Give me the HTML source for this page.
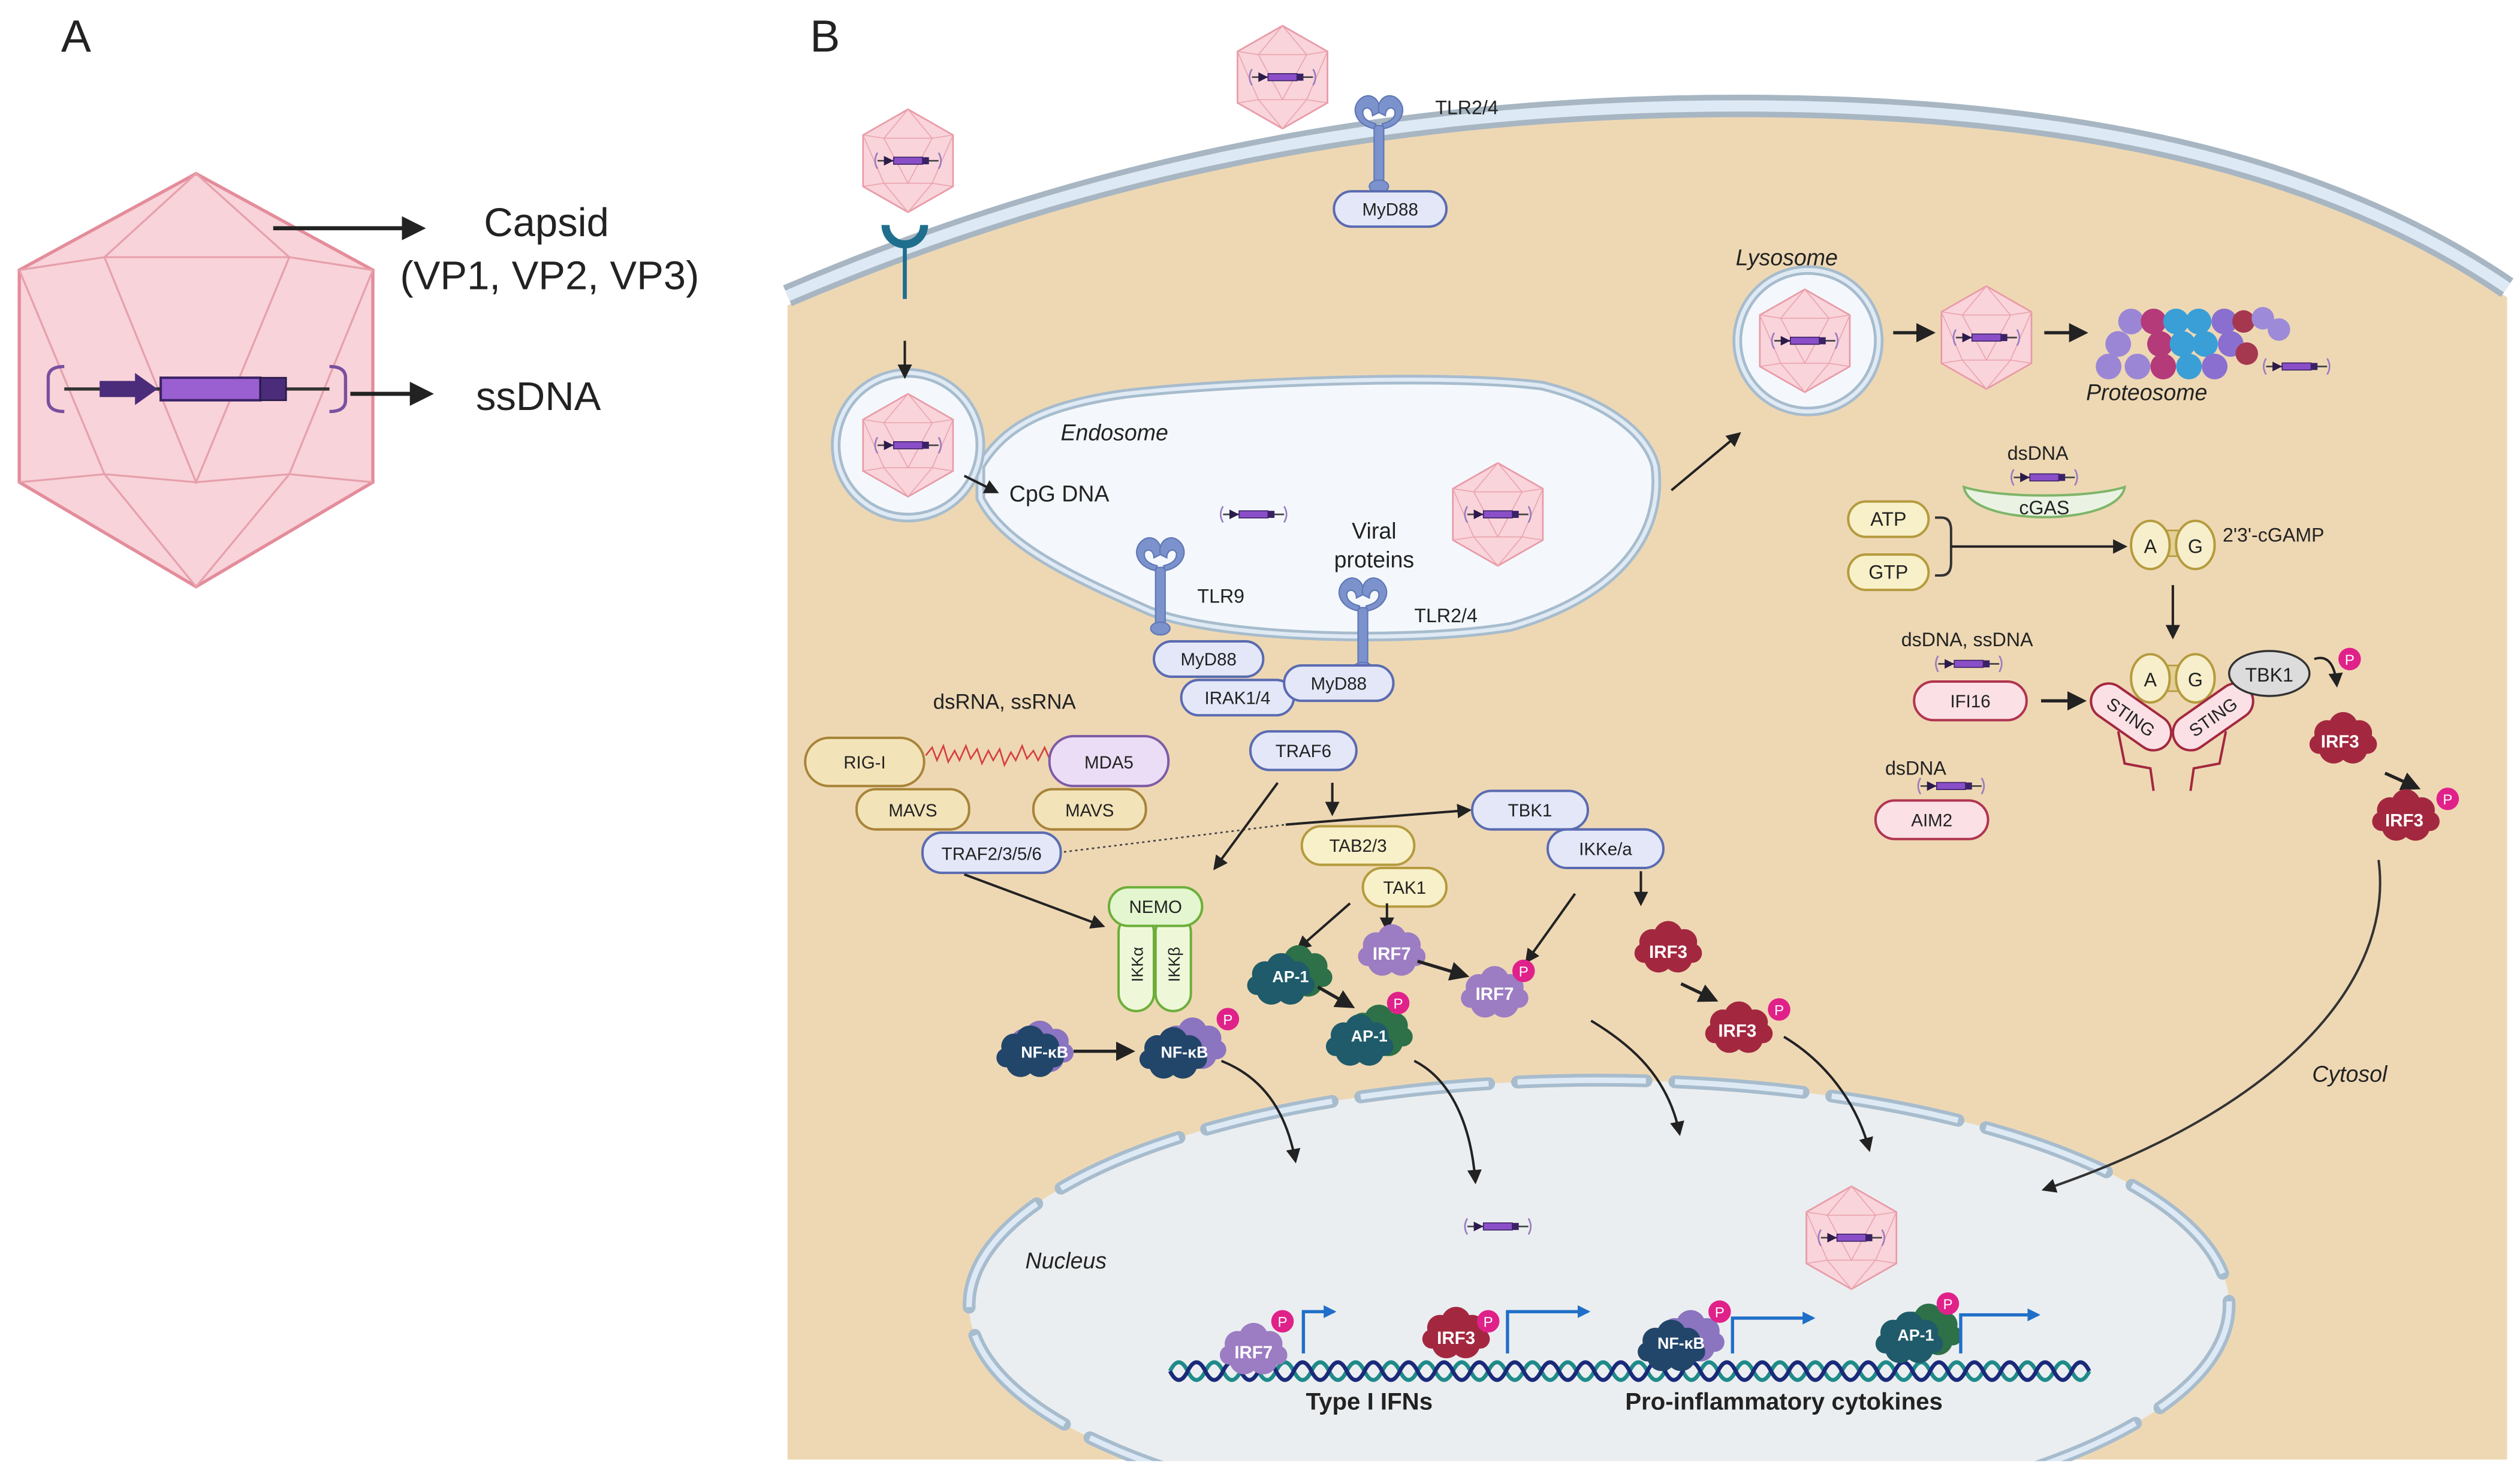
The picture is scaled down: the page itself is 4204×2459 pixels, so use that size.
<!DOCTYPE html>
<html><head><meta charset="utf-8">
<style>
html,body{margin:0;padding:0;background:#fff;}
svg{display:block;}
text{font-family:"Liberation Sans",Arial,sans-serif;fill:#222;}
</style></head>
<body>
<svg width="4204" height="2459" viewBox="0 0 1568 917" preserveAspectRatio="none" xmlns="http://www.w3.org/2000/svg">
<defs>
<marker id="ah" viewBox="0 0 10 10" refX="8" refY="5" markerWidth="6" markerHeight="6" orient="auto-start-reverse"><path d="M0,0 L10,5 L0,10 z" fill="#222"/></marker>
<marker id="bh" viewBox="0 0 10 10" refX="8" refY="5" markerWidth="4" markerHeight="4" orient="auto"><path d="M0,0 L10,5 L0,10 z" fill="#1f6fc8"/></marker>
<symbol id="dna" overflow="visible">
 <line x1="-19" y1="0" x2="19" y2="0" stroke="#444" stroke-width="1"/>
 <rect x="-9" y="-2.2" width="18" height="4.4" fill="#8a4fc8" stroke="#3b2266" stroke-width="0.6"/>
 <path d="M-15,-3 L-9,0 L-15,3 z" fill="#2b1b4a"/>
 <rect x="9" y="-2.2" width="4" height="4.4" fill="#3b2266"/>
 <path d="M-19,-5 q-3,5 0,10 M19,-5 q3,5 0,10" fill="none" stroke="#9a7cc0" stroke-width="1"/>
</symbol>
<symbol id="cap" overflow="visible">
 <polygon points="0,-32 28,-16 28,16 0,32 -28,16 -28,-16" fill="#f9d4da" stroke="#e89aa6" stroke-width="1"/>
 <path d="M0,-32 L-15,-14 L15,-14 Z M-28,-16 L-15,-14 M28,-16 L15,-14 M-15,-14 L0,14 L15,-14 M-28,16 L-15,14 L0,14 L15,14 L28,16 M-15,14 L0,32 L15,14 M-28,-16 L-15,14 M28,-16 L15,14" fill="none" stroke="#eaa3ae" stroke-width="0.6"/>
 <use href="#dna" x="0" y="0"/>
</symbol>
<symbol id="blob" overflow="visible">
 <g fill="currentColor">
 <circle cx="-10" cy="-4" r="8"/><circle cx="0" cy="-8" r="9"/><circle cx="10" cy="-4" r="8"/>
 <circle cx="-6" cy="6" r="9"/><circle cx="6" cy="6" r="9"/><circle cx="15" cy="3" r="6"/><circle cx="-15" cy="3" r="6"/>
 </g>
</symbol>
<symbol id="pp" overflow="visible">
 <circle r="7" fill="#e0218a"/><text x="0" y="3.5" font-size="9" text-anchor="middle" style="fill:#fff">P</text>
</symbol>
<symbol id="tlr" overflow="visible">
 <g fill="#7b92cc" stroke="#5f77b5" stroke-width="0.8">
 <path d="M-3,0 C-14,-2 -18,-12 -12,-18 C-6,-24 2,-18 0,-10 L-4,-8 C-4,-14 -10,-14 -10,-10 C-10,-6 -6,-4 -2,-3 Z"/>
 <path d="M3,0 C14,-2 18,-12 12,-18 C6,-24 -2,-18 0,-10 L4,-8 C4,-14 10,-14 10,-10 C10,-6 6,-4 2,-3 Z"/>
 <rect x="-3" y="-2" width="6" height="36" rx="2"/>
 <ellipse cx="0" cy="36" rx="6" ry="4"/>
 </g>
</symbol>
</defs>

<!-- Panel A -->
<text x="38" y="32" font-size="28">A</text>
<polygon points="122,108 232,168 232,300 122,365 12,300 12,168" fill="#f8d3d9" stroke="#e48c9b" stroke-width="2"/>
<path d="M122,108 L65,160 L180,160 Z M12,168 L65,160 M232,168 L180,160 M65,160 L122,300 L180,160 M12,300 L65,295 L122,300 L180,295 L232,300 M65,295 L122,365 L180,295 M12,168 L65,295 M232,168 L180,295" fill="none" stroke="#e6a0ab" stroke-width="1.2"/>
<line x1="40" y1="242" x2="205" y2="242" stroke="#333" stroke-width="2"/>
<rect x="100" y="235" width="62" height="14" fill="#9a5fd0" stroke="#3b2266" stroke-width="1.5"/>
<rect x="162" y="235" width="16" height="14" fill="#4a2c7a" stroke="#2b1b4a"/>
<path d="M62,237 L84,237 L84,232 L98,242 L84,252 L84,247 L62,247 Z" fill="#4a2c7a"/>
<path d="M40,228 q-10,0 -10,7 v14 q0,7 10,7" fill="none" stroke="#7a4fa0" stroke-width="2"/>
<path d="M205,228 q10,0 10,7 v14 q0,7 -10,7" fill="none" stroke="#7a4fa0" stroke-width="2"/>
<line x1="170" y1="142" x2="262" y2="142" stroke="#222" stroke-width="2.5" marker-end="url(#ah)"/>
<line x1="218" y1="245" x2="267" y2="245" stroke="#222" stroke-width="2.5" marker-end="url(#ah)"/>
<text x="340" y="147" font-size="25" text-anchor="middle">Capsid</text>
<text x="342" y="180" font-size="25" text-anchor="middle">(VP1, VP2, VP3)</text>
<text x="335" y="255" font-size="25" text-anchor="middle">ssDNA</text>

<!-- Panel B -->
<text x="504" y="32" font-size="28">B</text>
<path d="M490,190 C700,100 900,70 1100,72 C1300,74 1450,110 1560,185 L1560,908 L490,908 Z" fill="#eed8b4"/>
<path d="M490,184 C700,94 900,64 1100,66 C1300,68 1450,104 1560,179" fill="none" stroke="#a7b6c2" stroke-width="14"/>
<path d="M490,184 C700,94 900,64 1100,66 C1300,68 1450,104 1560,179" fill="none" stroke="#dde9f4" stroke-width="7"/>

<!-- receptor Y -->
<path d="M551,140 a12,12 0 0 0 24,0" fill="none" stroke="#1f6e8e" stroke-width="5"/>
<line x1="563" y1="152" x2="563" y2="186" stroke="#1f6e8e" stroke-width="2.5"/>
<use href="#cap" x="565" y="100"/>
<use href="#cap" x="798" y="48"/>
<use href="#tlr" x="858" y="80"/>
<text x="893" y="71" font-size="12">TLR2/4</text>

<!-- endosome -->
<path d="M610,290 C625,265 650,252 700,245 C760,238 900,232 960,240 C1000,250 1025,270 1030,290 C1035,330 1010,370 940,390 C880,400 760,398 715,380 C670,360 625,340 610,310 Z" fill="#f4f8fc" stroke="#a7bccd" stroke-width="6"/>
<path d="M610,290 C625,265 650,252 700,245 C760,238 900,232 960,240 C1000,250 1025,270 1030,290 C1035,330 1010,370 940,390 C880,400 760,398 715,380 C670,360 625,340 610,310 Z" fill="none" stroke="#dfeaf4" stroke-width="2.5"/>
<circle cx="565" cy="277" r="45" fill="#f4f8fc" stroke="#a7bccd" stroke-width="6"/>
<circle cx="565" cy="277" r="45" fill="none" stroke="#dfeaf4" stroke-width="2.5"/>
<use href="#cap" x="565" y="277"/>
<line x1="563" y1="212" x2="563" y2="234" stroke="#222" stroke-width="1.5" marker-end="url(#ah)"/>
<line x1="600" y1="296" x2="620" y2="306" stroke="#222" stroke-width="1.5" marker-end="url(#ah)"/>
<text x="660" y="274" font-size="14" font-style="italic">Endosome</text>
<text x="628" y="312" font-size="14">CpG DNA</text>
<use href="#dna" x="780" y="320"/>
<use href="#cap" x="932" y="320"/>
<text x="855" y="335" font-size="14" text-anchor="middle">Viral</text>
<text x="855" y="353" font-size="14" text-anchor="middle">proteins</text>
<use href="#tlr" x="722" y="355"/>
<text x="745" y="375" font-size="12">TLR9</text>
<use href="#tlr" x="848" y="380"/>
<text x="880" y="387" font-size="12">TLR2/4</text>

<!-- lysosome -->
<line x1="1040" y1="305" x2="1082" y2="270" stroke="#222" stroke-width="1.5" marker-end="url(#ah)"/>
<circle cx="1125" cy="212" r="44" fill="#f4f8fc" stroke="#a7bccd" stroke-width="6"/>
<circle cx="1125" cy="212" r="44" fill="none" stroke="#dfeaf4" stroke-width="2.5"/>
<use href="#cap" x="1123" y="212"/>
<text x="1080" y="165" font-size="14" font-style="italic">Lysosome</text>
<line x1="1178" y1="207" x2="1202" y2="207" stroke="#222" stroke-width="2" marker-end="url(#ah)"/>
<use href="#cap" x="1236" y="210"/>
<line x1="1272" y1="207" x2="1297" y2="207" stroke="#222" stroke-width="2" marker-end="url(#ah)"/>
<!-- proteasome -->
<g>
 <g fill="#9b86d6"><circle cx="1312" cy="228" r="8"/><circle cx="1318" cy="214" r="8"/><circle cx="1326" cy="200" r="8"/><circle cx="1330" cy="228" r="8"/></g>
 <g fill="#b53a7a"><circle cx="1340" cy="200" r="8"/><circle cx="1344" cy="214" r="8"/><circle cx="1346" cy="228" r="8"/></g>
 <g fill="#3a9fd6"><circle cx="1354" cy="200" r="8"/><circle cx="1358" cy="214" r="8"/><circle cx="1362" cy="228" r="8"/><circle cx="1368" cy="200" r="8"/><circle cx="1372" cy="214" r="8"/></g>
 <g fill="#8a6fd0"><circle cx="1378" cy="228" r="8"/><circle cx="1384" cy="200" r="8"/><circle cx="1388" cy="214" r="8"/></g>
 <g fill="#a5374f"><circle cx="1396" cy="200" r="7"/><circle cx="1398" cy="220" r="7"/></g>
 <g fill="#9d8ad8"><circle cx="1408" cy="198" r="7"/><circle cx="1418" cy="205" r="7"/></g>
</g>
<text x="1298" y="249" font-size="14" font-style="italic">Proteosome</text>
<use href="#dna" x="1429" y="228"/>

<!-- cGAS STING -->
<text x="1268" y="286" font-size="12" text-anchor="middle">dsDNA</text>
<use href="#dna" x="1272" y="297"/>
<path d="M1222,303 C1226,328 1318,328 1322,303 C1300,310 1244,310 1222,303 Z" fill="#eaf3e3" stroke="#7fb56a" stroke-width="1.5"/>
<text x="1272" y="320" font-size="12" text-anchor="middle">cGAS</text>
<rect x="1150" y="312" width="50" height="22" rx="11" fill="#f8f0c8" stroke="#b59b3e" stroke-width="1.5"/>
<text x="1175" y="327" font-size="12" text-anchor="middle">ATP</text>
<rect x="1150" y="345" width="50" height="22" rx="11" fill="#f8f0c8" stroke="#b59b3e" stroke-width="1.5"/>
<text x="1175" y="360" font-size="12" text-anchor="middle">GTP</text>
<path d="M1204,322 h4 q6,0 6,8 v20 q0,8 -6,8 h-4" fill="none" stroke="#333" stroke-width="1.5"/>
<line x1="1214" y1="340" x2="1322" y2="340" stroke="#222" stroke-width="1.5" marker-end="url(#ah)"/>
<rect x="1336" y="330" width="32" height="16" fill="#e4cf95" stroke="#b59b3e"/>
<ellipse cx="1338" cy="339" rx="12" ry="15" fill="#f7efcb" stroke="#b59b3e" stroke-width="1.5"/>
<ellipse cx="1366" cy="339" rx="12" ry="15" fill="#f7efcb" stroke="#b59b3e" stroke-width="1.5"/>
<text x="1338" y="344" font-size="12" text-anchor="middle">A</text>
<text x="1366" y="344" font-size="12" text-anchor="middle">G</text>
<text x="1383" y="337" font-size="12">2'3'-cGAMP</text>
<line x1="1352" y1="364" x2="1352" y2="396" stroke="#222" stroke-width="1.5" marker-end="url(#ah)"/>

<text x="1224" y="402" font-size="12" text-anchor="middle">dsDNA, ssDNA</text>
<use href="#dna" x="1225" y="413"/>
<rect x="1191" y="424" width="70" height="24" rx="12" fill="#fbe0e6" stroke="#b03550" stroke-width="1.5"/>
<text x="1226" y="440" font-size="11" text-anchor="middle">IFI16</text>
<line x1="1270" y1="436" x2="1296" y2="436" stroke="#222" stroke-width="2" marker-end="url(#ah)"/>
<text x="1192" y="482" font-size="12" text-anchor="middle">dsDNA</text>
<use href="#dna" x="1214" y="489"/>
<rect x="1167" y="498" width="70" height="24" rx="12" fill="#fbe0e6" stroke="#b03550" stroke-width="1.5"/>
<text x="1202" y="514" font-size="11" text-anchor="middle">AIM2</text>

<path d="M1318,455 L1322,475 L1338,478 L1340,492 M1385,455 L1381,475 L1365,478 L1363,492" fill="none" stroke="#a3283f" stroke-width="1.5"/>
<rect x="1336" y="414" width="32" height="16" fill="#e4cf95" stroke="#b59b3e"/>
<ellipse cx="1338" cy="422" rx="12" ry="15" fill="#f7efcb" stroke="#b59b3e" stroke-width="1.5"/>
<ellipse cx="1366" cy="422" rx="12" ry="15" fill="#f7efcb" stroke="#b59b3e" stroke-width="1.5"/>
<text x="1338" y="427" font-size="12" text-anchor="middle">A</text>
<text x="1366" y="427" font-size="12" text-anchor="middle">G</text>
<g transform="translate(1326,446) rotate(35)"><rect x="-28" y="-11" width="56" height="22" rx="11" fill="#fbe0e6" stroke="#a3283f" stroke-width="1.5"/><text x="0" y="4" font-size="11" text-anchor="middle">STING</text></g>
<g transform="translate(1377,446) rotate(-35)"><rect x="-28" y="-11" width="56" height="22" rx="11" fill="#fbe0e6" stroke="#a3283f" stroke-width="1.5"/><text x="0" y="4" font-size="11" text-anchor="middle">STING</text></g>
<ellipse cx="1412" cy="419" rx="25" ry="14" fill="#dcdcdc" stroke="#333" stroke-width="1.3"/>
<text x="1412" y="424" font-size="12" text-anchor="middle">TBK1</text>
<path d="M1440,410 q12,-4 14,16" fill="none" stroke="#222" stroke-width="1.5" marker-end="url(#ah)"/>
<use href="#pp" x="1462" y="410"/>
<use href="#blob" x="1458" y="460" style="color:#a3283f"/>
<text x="1456" y="465" font-size="11" font-weight="bold" text-anchor="middle" style="fill:#fff">IRF3</text>
<line x1="1484" y1="481" x2="1504" y2="490" stroke="#222" stroke-width="2" marker-end="url(#ah)"/>
<use href="#blob" x="1497" y="508" style="color:#a3283f"/>
<text x="1496" y="514" font-size="11" font-weight="bold" text-anchor="middle" style="fill:#fff">IRF3</text>
<use href="#pp" x="1523" y="497"/>
<text x="1462" y="673" font-size="14" font-style="italic" text-anchor="middle">Cytosol</text>

<!-- MyD88 etc -->
<rect x="830" y="119" width="70" height="22" rx="11" fill="#e3e7f8" stroke="#5a6bb0" stroke-width="1.5"/>
<text x="865" y="134" font-size="11" text-anchor="middle">MyD88</text>
<rect x="735" y="423" width="70" height="22" rx="11" fill="#e3e7f8" stroke="#5a6bb0" stroke-width="1.5"/>
<text x="770" y="438" font-size="11" text-anchor="middle">IRAK1/4</text>
<rect x="718" y="399" width="68" height="22" rx="11" fill="#e3e7f8" stroke="#5a6bb0" stroke-width="1.5"/>
<text x="752" y="414" font-size="11" text-anchor="middle">MyD88</text>
<rect x="799" y="414" width="68" height="22" rx="11" fill="#e3e7f8" stroke="#5a6bb0" stroke-width="1.5"/>
<text x="833" y="429" font-size="11" text-anchor="middle">MyD88</text>
<rect x="778" y="455" width="66" height="24" rx="12" fill="#e3e7f8" stroke="#5a6bb0" stroke-width="1.5"/>
<text x="811" y="471" font-size="11" text-anchor="middle">TRAF6</text>

<text x="625" y="441" font-size="13" text-anchor="middle">dsRNA, ssRNA</text>
<path d="M576,470 l4,-5 3,8 4,-9 3,10 4,-7 3,6 4,-9 3,8 4,-6 3,9 4,-8 3,6 4,-7 3,10 4,-8 3,5 4,-9 3,8 4,-5 3,6 4,-8 3,7 4,-6" fill="none" stroke="#d64040" stroke-width="1"/>
<rect x="501" y="459" width="74" height="30" rx="15" fill="#f3e3b8" stroke="#a8843a" stroke-width="1.5"/>
<text x="538" y="478" font-size="11" text-anchor="middle">RIG-I</text>
<rect x="653" y="458" width="74" height="31" rx="15" fill="#ebddf5" stroke="#7d5ba6" stroke-width="1.5"/>
<text x="690" y="478" font-size="11" text-anchor="middle">MDA5</text>
<rect x="533" y="491" width="70" height="25" rx="12" fill="#f3e3b8" stroke="#a8843a" stroke-width="1.5"/>
<text x="568" y="508" font-size="11" text-anchor="middle">MAVS</text>
<rect x="643" y="491" width="70" height="25" rx="12" fill="#f3e3b8" stroke="#a8843a" stroke-width="1.5"/>
<text x="678" y="508" font-size="11" text-anchor="middle">MAVS</text>
<rect x="574" y="518" width="86" height="25" rx="12" fill="#e3e7f8" stroke="#5a6bb0" stroke-width="1.5"/>
<text x="617" y="535" font-size="11" text-anchor="middle">TRAF2/3/5/6</text>
<line x1="662" y1="530" x2="800" y2="513" stroke="#444" stroke-width="1" stroke-dasharray="1.5,2"/>
<line x1="800" y1="513" x2="914" y2="504" stroke="#222" stroke-width="1.5" marker-end="url(#ah)"/>

<rect x="916" y="492" width="72" height="24" rx="12" fill="#e3e7f8" stroke="#5a6bb0" stroke-width="1.5"/>
<text x="952" y="508" font-size="11" text-anchor="middle">TBK1</text>
<rect x="963" y="516" width="72" height="24" rx="12" fill="#e3e7f8" stroke="#5a6bb0" stroke-width="1.5"/>
<text x="999" y="532" font-size="11" text-anchor="middle">IKKe/a</text>
<rect x="810" y="514" width="70" height="24" rx="12" fill="#f8f0c8" stroke="#b59b3e" stroke-width="1.5"/>
<text x="845" y="530" font-size="11" text-anchor="middle">TAB2/3</text>
<rect x="848" y="540" width="52" height="24" rx="12" fill="#f8f0c8" stroke="#b59b3e" stroke-width="1.5"/>
<text x="874" y="556" font-size="11" text-anchor="middle">TAK1</text>

<line x1="829" y1="487" x2="829" y2="506" stroke="#222" stroke-width="1.5" marker-end="url(#ah)"/>
<line x1="795" y1="487" x2="756" y2="540" stroke="#222" stroke-width="1.5" marker-end="url(#ah)"/>
<line x1="600" y1="544" x2="686" y2="576" stroke="#222" stroke-width="1.5" marker-end="url(#ah)"/>
<line x1="1021" y1="542" x2="1021" y2="562" stroke="#222" stroke-width="1.5" marker-end="url(#ah)"/>
<line x1="980" y1="556" x2="950" y2="598" stroke="#222" stroke-width="1.5" marker-end="url(#ah)"/>
<line x1="840" y1="562" x2="808" y2="590" stroke="#222" stroke-width="1.5" marker-end="url(#ah)"/>
<line x1="863" y1="562" x2="863" y2="578" stroke="#222" stroke-width="1.5" marker-end="url(#ah)"/>

<!-- NEMO IKK -->
<rect x="696" y="569" width="22" height="60" rx="11" fill="#eef8d9" stroke="#6dae3a" stroke-width="1.5"/>
<rect x="719" y="569" width="22" height="60" rx="11" fill="#eef8d9" stroke="#6dae3a" stroke-width="1.5"/>
<text transform="translate(711,600) rotate(-90)" font-size="10" text-anchor="middle">IKKα</text>
<text transform="translate(734,600) rotate(-90)" font-size="10" text-anchor="middle">IKKβ</text>
<rect x="690" y="552" width="58" height="24" rx="12" fill="#e3f6cf" stroke="#6dae3a" stroke-width="1.5"/>
<text x="719" y="568" font-size="11" text-anchor="middle">NEMO</text>

<!-- proteins -->
<use href="#blob" x="647" y="652" style="color:#8b74c0"/>
<use href="#blob" x="641" y="655" style="color:#22456a"/>
<text x="650" y="658" font-size="10" font-weight="bold" text-anchor="middle" style="fill:#fff">NF-κB</text>
<line x1="668" y1="654" x2="704" y2="654" stroke="#222" stroke-width="2" marker-end="url(#ah)"/>
<use href="#blob" x="742" y="650" style="color:#8b74c0"/>
<use href="#blob" x="730" y="656" style="color:#22456a"/>
<text x="737" y="658" font-size="10" font-weight="bold" text-anchor="middle" style="fill:#fff">NF-κB</text>
<use href="#pp" x="764" y="634"/>

<use href="#blob" x="808" y="605" style="color:#2e7048"/>
<use href="#blob" x="797" y="610" style="color:#1f5b6a"/>
<text x="803" y="611" font-size="10" font-weight="bold" text-anchor="middle" style="fill:#fff">AP-1</text>
<line x1="820" y1="614" x2="841" y2="626" stroke="#222" stroke-width="2" marker-end="url(#ah)"/>
<use href="#blob" x="858" y="642" style="color:#2e7048"/>
<use href="#blob" x="846" y="648" style="color:#1f5b6a"/>
<text x="852" y="648" font-size="10" font-weight="bold" text-anchor="middle" style="fill:#fff">AP-1</text>
<use href="#pp" x="870" y="624"/>

<use href="#blob" x="866" y="592" style="color:#9c7cc2"/>
<text x="866" y="597" font-size="11" font-weight="bold" text-anchor="middle" style="fill:#fff">IRF7</text>
<line x1="882" y1="598" x2="912" y2="607" stroke="#222" stroke-width="2" marker-end="url(#ah)"/>
<use href="#blob" x="930" y="618" style="color:#9c7cc2"/>
<text x="930" y="622" font-size="11" font-weight="bold" text-anchor="middle" style="fill:#fff">IRF7</text>
<use href="#pp" x="948" y="604"/>

<use href="#blob" x="1038" y="590" style="color:#a3283f"/>
<text x="1038" y="596" font-size="11" font-weight="bold" text-anchor="middle" style="fill:#fff">IRF3</text>
<line x1="1046" y1="612" x2="1067" y2="622" stroke="#222" stroke-width="2" marker-end="url(#ah)"/>
<use href="#blob" x="1082" y="640" style="color:#a3283f"/>
<text x="1081" y="645" font-size="11" font-weight="bold" text-anchor="middle" style="fill:#fff">IRF3</text>
<use href="#pp" x="1107" y="628"/>

<!-- nucleus -->
<ellipse cx="995" cy="812" rx="392" ry="140" fill="#ebeef0"/>
<ellipse cx="995" cy="812" rx="392" ry="140" fill="none" stroke="#a7bccd" stroke-width="8" stroke-dasharray="80,18" stroke-linecap="round"/>
<ellipse cx="995" cy="812" rx="392" ry="140" fill="none" stroke="#dde9f4" stroke-width="3.5" stroke-dasharray="80,18"/>
<rect x="490" y="909" width="1078" height="8" fill="#fff"/>
<text x="638" y="789" font-size="14" font-style="italic">Nucleus</text>
<use href="#dna" x="932" y="763"/>
<use href="#cap" x="1152" y="770"/>

<path d="M760,660 C785,670 800,690 806,722" fill="none" stroke="#222" stroke-width="1.5" marker-end="url(#ah)"/>
<path d="M880,660 C900,670 915,695 918,735" fill="none" stroke="#222" stroke-width="1.5" marker-end="url(#ah)"/>
<path d="M990,635 C1015,650 1038,670 1045,705" fill="none" stroke="#222" stroke-width="1.5" marker-end="url(#ah)"/>
<path d="M1110,645 C1135,660 1155,685 1163,715" fill="none" stroke="#222" stroke-width="1.5" marker-end="url(#ah)"/>
<path d="M1480,535 C1490,610 1420,690 1272,740" fill="none" stroke="#333" stroke-width="1.5" marker-end="url(#ah)"/>

<!-- DNA helix -->
<path d="M728,853 q5.5,-11 11,0 t11,0 t11,0 t11,0 t11,0 t11,0 t11,0 t11,0 t11,0 t11,0 t11,0 t11,0 t11,0 t11,0 t11,0 t11,0 t11,0 t11,0 t11,0 t11,0 t11,0 t11,0 t11,0 t11,0 t11,0 t11,0 t11,0 t11,0 t11,0 t11,0 t11,0 t11,0 t11,0 t11,0 t11,0 t11,0 t11,0 t11,0 t11,0 t11,0 t11,0 t11,0 t11,0 t11,0 t11,0 t11,0 t11,0 t11,0 t11,0 t11,0 t11,0 t11,0" fill="none" stroke="#1f8a8a" stroke-width="2.5"/>
<path d="M728,853 q5.5,11 11,0 t11,0 t11,0 t11,0 t11,0 t11,0 t11,0 t11,0 t11,0 t11,0 t11,0 t11,0 t11,0 t11,0 t11,0 t11,0 t11,0 t11,0 t11,0 t11,0 t11,0 t11,0 t11,0 t11,0 t11,0 t11,0 t11,0 t11,0 t11,0 t11,0 t11,0 t11,0 t11,0 t11,0 t11,0 t11,0 t11,0 t11,0 t11,0 t11,0 t11,0 t11,0 t11,0 t11,0 t11,0 t11,0 t11,0 t11,0 t11,0 t11,0 t11,0 t11,0" fill="none" stroke="#1a2a7a" stroke-width="2.5"/>
<text x="852" y="877" font-size="15" font-weight="bold" text-anchor="middle">Type I IFNs</text>
<text x="1110" y="877" font-size="15" font-weight="bold" text-anchor="middle">Pro-inflammatory cytokines</text>

<!-- nuclear TFs -->
<use href="#blob" x="780" y="840" style="color:#9c7cc2"/>
<text x="780" y="845" font-size="11" font-weight="bold" text-anchor="middle" style="fill:#fff">IRF7</text>
<use href="#pp" x="798" y="822"/>
<path d="M811,842 V816 H830" fill="none" stroke="#1f6fc8" stroke-width="2" marker-end="url(#bh)"/>
<use href="#blob" x="906" y="830" style="color:#a3283f"/>
<text x="906" y="836" font-size="11" font-weight="bold" text-anchor="middle" style="fill:#fff">IRF3</text>
<use href="#pp" x="926" y="822"/>
<path d="M938,842 V816 H988" fill="none" stroke="#1f6fc8" stroke-width="2" marker-end="url(#bh)"/>
<use href="#blob" x="1052" y="832" style="color:#8b74c0"/>
<use href="#blob" x="1040" y="838" style="color:#22456a"/>
<text x="1046" y="839" font-size="10" font-weight="bold" text-anchor="middle" style="fill:#fff">NF-κB</text>
<use href="#pp" x="1070" y="816"/>
<path d="M1078,842 V820 H1128" fill="none" stroke="#1f6fc8" stroke-width="2" marker-end="url(#bh)"/>
<use href="#blob" x="1200" y="828" style="color:#2e7048"/>
<use href="#blob" x="1188" y="833" style="color:#1f5b6a"/>
<text x="1192" y="834" font-size="10" font-weight="bold" text-anchor="middle" style="fill:#fff">AP-1</text>
<use href="#pp" x="1212" y="811"/>
<path d="M1220,842 V818 H1268" fill="none" stroke="#1f6fc8" stroke-width="2" marker-end="url(#bh)"/>
</svg>
</body></html>
